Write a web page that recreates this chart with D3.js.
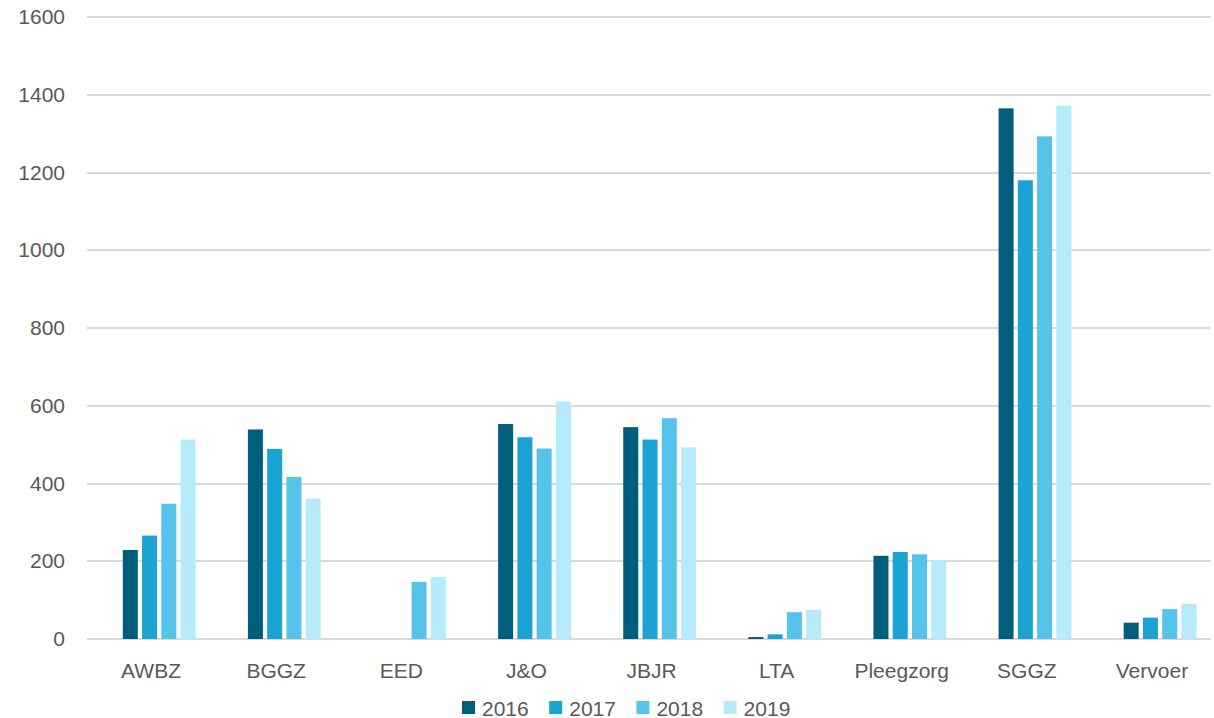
<!DOCTYPE html>
<html>
<head>
<meta charset="utf-8">
<script src="https://cdn.jsdelivr.net/npm/d3@7"></script>
<style>
  body { margin: 0; background: #fff; }
  svg text { font-family: "Liberation Sans", Arial, sans-serif; fill: #595959; }
</style>
</head>
<body>
<div id="chart"></div>
<script>
const categories = ["AWBZ", "BGGZ", "EED", "J&O", "JBJR", "LTA", "Pleegzorg", "SGGZ", "Vervoer"];
const years = ["2016", "2017", "2018", "2019"];
const values2016 = [229, 539, null, 553, 545, 5, 214, 1365, 42];
const values2017 = [266, 489, null, 519, 513, 12, 224, 1180, 55];
const values2018 = [348, 417, 147, 490, 568, 69, 218, 1293, 77];
const values2019 = [513, 361, 160, 611, 493, 75, 202, 1372, 91];
const yTicks = [0, 200, 400, 600, 800, 1000, 1200, 1400, 1600];
const colors = ["#005e7d", "#1ba3d4", "#56c3ea", "#b6ebfc"];

const series = [values2016, values2017, values2018, values2019];

const W = 1214, H = 718;
const MARGIN = { TOP: 17, BOTTOM: 79, LEFT: 87, RIGHT: 1 };

const svg = d3.select("#chart")
  .append("svg")
  .attr("width", W)
  .attr("height", H);

const y = d3.scaleLinear()
  .domain([0, 1600])
  .range([H - MARGIN.BOTTOM, MARGIN.TOP]);

const x0 = d3.scaleBand()
  .domain(categories)
  .range([MARGIN.LEFT, W - MARGIN.RIGHT])
  .paddingInner(0.264)
  .paddingOuter(0.132);

// five slots per group, the first one stays empty (like the source chart)
const x1 = d3.scaleBand()
  .domain(d3.range(5))
  .range([0, x0.bandwidth()])
  .paddingInner(0.22);

// gridlines
svg.append("g")
  .selectAll("line")
  .data(yTicks)
  .join("line")
  .attr("x1", MARGIN.LEFT)
  .attr("x2", W - MARGIN.RIGHT - 2)
  .attr("y1", d => Math.round(y(d)))
  .attr("y2", d => Math.round(y(d)))
  .attr("stroke", "#d9d9d9")
  .attr("stroke-width", 2);

// y labels
svg.append("g")
  .selectAll("text")
  .data(yTicks)
  .join("text")
  .attr("x", 65)
  .attr("y", d => y(d) + 7)
  .attr("text-anchor", "end")
  .style("font-size", "21px")
  .text(d => d);

// bars
const groups = svg.append("g")
  .selectAll("g")
  .data(categories)
  .join("g")
  .attr("transform", d => `translate(${x0(d)},0)`);

groups.selectAll("rect")
  .data((c, ci) => series.map((s, si) => ({ si: si, v: s[ci] })).filter(d => d.v != null))
  .join("rect")
  .attr("x", d => x1(d.si + 1))
  .attr("width", x1.bandwidth())
  .attr("y", d => y(d.v))
  .attr("height", d => y(0) - y(d.v))
  .attr("fill", d => colors[d.si]);

// x labels
svg.append("g")
  .selectAll("text")
  .data(categories)
  .join("text")
  .attr("x", d => x0(d) + x0.bandwidth() / 2 + 1.5)
  .attr("y", 678)
  .attr("text-anchor", "middle")
  .style("font-size", "21px")
  .text(d => d);

// legend
const legend = svg.append("g")
  .selectAll("g")
  .data(years)
  .join("g")
  .attr("transform", (d, i) => `translate(${462 + i * 87.2},701)`);

legend.append("rect")
  .attr("width", 13)
  .attr("height", 13)
  .attr("fill", (d, i) => colors[i]);

legend.append("text")
  .attr("x", 20)
  .attr("y", 14.5)
  .style("font-size", "21px")
  .text(d => d);
</script>
</body>
</html>
